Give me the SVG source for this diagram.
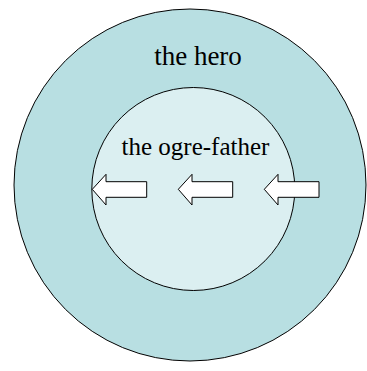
<svg xmlns="http://www.w3.org/2000/svg" width="367" height="371" viewBox="0 0 367 371">
<style>
.lbl{font-family:"Liberation Serif","Times New Roman",serif;fill:#000;text-anchor:middle}
.arrow{fill:#fff;stroke:#000;stroke-width:1}
</style>
<rect width="367" height="371" fill="#fff"/>
<g id="hero">
<circle cx="190" cy="185" r="176" fill="#b8dfe2" stroke="#000" stroke-width="1"/>
<text class="lbl" x="198" y="65" font-size="27">the hero</text>
</g>
<g id="ogre-father">
<circle cx="193.3" cy="189" r="101.5" fill="#dbeff1" stroke="#000" stroke-width="1"/>
<text class="lbl" x="195.5" y="155" font-size="25">the ogre-father</text>
</g>
<g id="connectors">
<path class="arrow" d="M92.3,189.3 L106,174.3 L106,181.7 L146.7,181.7 L146.7,197.3 L106,197.3 L106,205 Z"/>
<path class="arrow" d="M178.3,189.3 L192,174.3 L192,181.7 L232.7,181.7 L232.7,197.3 L192,197.3 L192,205 Z"/>
<path class="arrow" d="M264.3,189.3 L278,174.3 L278,181.7 L319,181.7 L319,197.3 L278,197.3 L278,205 Z"/>
</g>
</svg>
